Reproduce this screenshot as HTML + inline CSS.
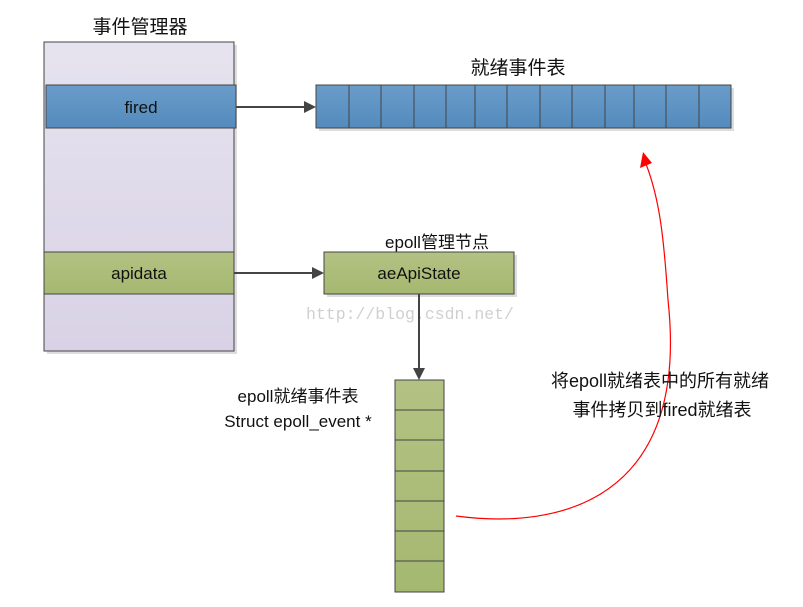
<!DOCTYPE html>
<html><head><meta charset="utf-8"><style>
body{margin:0;background:#fff;}
text{font-family:"Liberation Sans","Noto Sans CJK SC",sans-serif;fill:#111;}
</style></head><body>
<svg width="803" height="602" xmlns="http://www.w3.org/2000/svg">
<defs>
<linearGradient id="b" x1="0" y1="0" x2="0" y2="1"><stop offset="0" stop-color="#6a9cc9"/><stop offset="1" stop-color="#538bbd"/></linearGradient>
<linearGradient id="g" x1="0" y1="0" x2="0" y2="1"><stop offset="0" stop-color="#b3c283"/><stop offset="1" stop-color="#a5b870"/></linearGradient>
<linearGradient id="p" x1="0" y1="0" x2="0" y2="1"><stop offset="0" stop-color="#e6e3ef"/><stop offset="1" stop-color="#d9d2e6"/></linearGradient>
</defs>
<text x="140" y="33" font-size="19" text-anchor="middle">事件管理器</text>
<rect x="47" y="45" width="190" height="309" fill="#ddd"/>
<rect x="44" y="42" width="190" height="309" fill="url(#p)" stroke="#444"/>
<rect x="46" y="85" width="190" height="43" fill="url(#b)" stroke="#444"/>
<text x="141" y="113" font-size="17" text-anchor="middle">fired</text>
<rect x="44" y="252" width="190" height="42" fill="url(#g)" stroke="#444"/>
<text x="139" y="279" font-size="17" text-anchor="middle">apidata</text>
<line x1="236" y1="107" x2="305" y2="107" stroke="#444" stroke-width="2"/>
<polygon points="316,107 304,101 304,113" fill="#444"/>
<line x1="234" y1="273" x2="313" y2="273" stroke="#444" stroke-width="2"/>
<polygon points="324,273 312,267 312,279" fill="#444"/>
<text x="518" y="74" font-size="19" text-anchor="middle">就绪事件表</text>
<rect x="319" y="88" width="415" height="43" fill="#ddd"/>
<rect x="316" y="85" width="415" height="43" fill="url(#b)" stroke="#444"/>
<g stroke="#444">
<line x1="349" y1="85" x2="349" y2="128"/><line x1="381" y1="85" x2="381" y2="128"/><line x1="414" y1="85" x2="414" y2="128"/><line x1="446" y1="85" x2="446" y2="128"/><line x1="475" y1="85" x2="475" y2="128"/><line x1="507" y1="85" x2="507" y2="128"/><line x1="540" y1="85" x2="540" y2="128"/><line x1="572" y1="85" x2="572" y2="128"/><line x1="605" y1="85" x2="605" y2="128"/><line x1="634" y1="85" x2="634" y2="128"/><line x1="666" y1="85" x2="666" y2="128"/><line x1="699" y1="85" x2="699" y2="128"/>
</g>
<text x="437" y="248" font-size="17" text-anchor="middle">epoll管理节点</text>
<rect x="327" y="255" width="190" height="42" fill="#ddd"/>
<rect x="324" y="252" width="190" height="42" fill="url(#g)" stroke="#444"/>
<text x="419" y="279" font-size="17" text-anchor="middle">aeApiState</text>
<text x="306" y="319" font-size="16.5" style="fill:#d0d0d0;font-family:'Liberation Mono',monospace">http://blog.csdn.net/</text>
<line x1="419" y1="294" x2="419" y2="369" stroke="#444" stroke-width="2"/>
<polygon points="419,380 413,368 425,368" fill="#444"/>
<text x="298" y="402" font-size="17" text-anchor="middle">epoll就绪事件表</text>
<text x="298" y="427" font-size="17" text-anchor="middle">Struct epoll_event *</text>
<rect x="395" y="380" width="49" height="212" fill="url(#g)" stroke="#444"/>
<g stroke="#444">
<line x1="395" y1="410" x2="444" y2="410"/><line x1="395" y1="440" x2="444" y2="440"/><line x1="395" y1="471" x2="444" y2="471"/><line x1="395" y1="501" x2="444" y2="501"/><line x1="395" y1="531" x2="444" y2="531"/><line x1="395" y1="561" x2="444" y2="561"/>
</g>
<path d="M456,516 C560,530 690,500 668,300 C664,240 660,200 646,164" fill="none" stroke="#f00" stroke-width="1.2"/>
<polygon points="643,152 640,168 652,163" fill="#f00"/>
<text x="660" y="387" font-size="18" text-anchor="middle">将epoll就绪表中的所有就绪</text>
<text x="662" y="416" font-size="18" text-anchor="middle">事件拷贝到fired就绪表</text>
</svg>
</body></html>
